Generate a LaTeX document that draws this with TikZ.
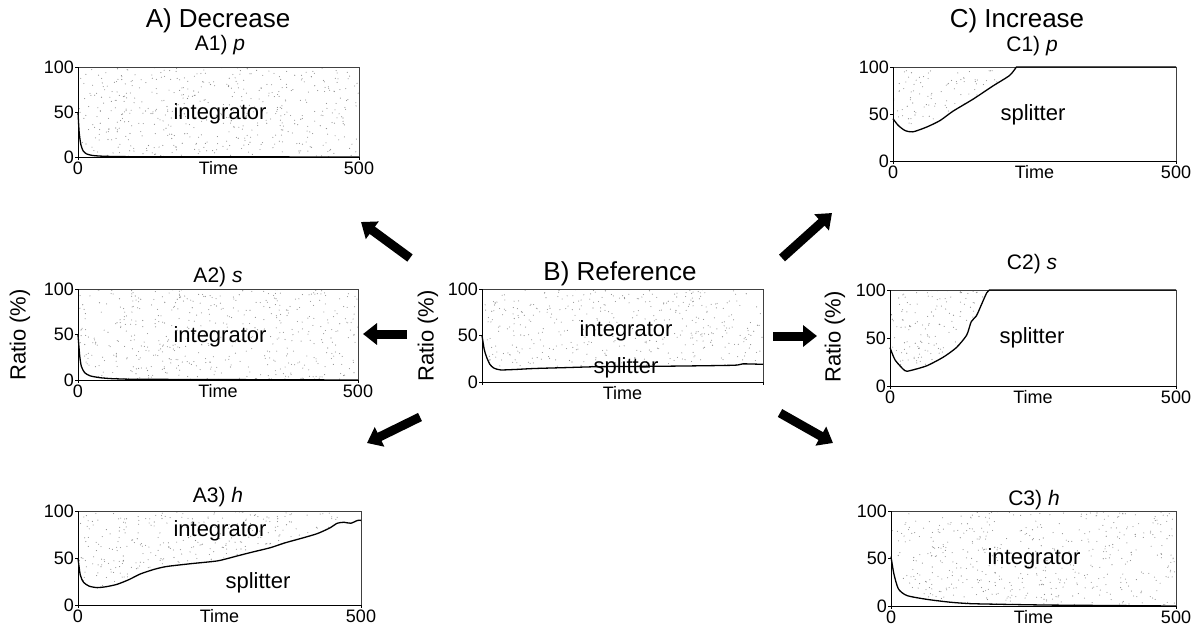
\documentclass[tikz,border=0pt]{standalone}
\usepackage{fontspec}
\setmainfont{Liberation Sans}
\usetikzlibrary{arrows.meta}
\definecolor{speck}{HTML}{8C8C8C}
\tikzset{
  bigtitle/.style  = {font=\fontsize{26}{26}\selectfont, anchor=base, inner sep=0pt, text depth=0pt},
  subtitle/.style  = {font=\fontsize{21}{21}\selectfont, anchor=base, inner sep=1pt},
  region/.style    = {font=\fontsize{22}{22}\selectfont, anchor=base, inner sep=1pt},
  tick/.style      = {font=\fontsize{18}{18}\selectfont, inner sep=1pt},
  ylab/.style      = {font=\fontsize{22}{22}\selectfont, rotate=90, inner sep=1pt},
  ratioline/.style = {line width=1.3pt, line join=round},
  plotbox/.style   = {line width=0.7pt, draw=black!75},
  axis/.style      = {line width=1pt},
  speckle/.style   = {fill=speck},
  fat/.style       = {line width=9pt, -{Triangle[length=14pt,width=21pt]}},
}
% one panel: name, left, bottom, x unit, y unit, curve, end value
\newcommand{\ratiopanel}[7]{%
  \begin{scope}[shift={(#2,#3)}, x={(#4pt,0pt)}, y={(0pt,#5pt)}]
    \begin{scope}
      \clip (0,100) -- plot[smooth,tension=0.4] coordinates {#6} -- (500,#7) -- (500,100) -- cycle;
      \foreach \k in {1,...,520}
        \fill[speckle] ({rnd*500},{rnd*100}) circle (0.55pt);
    \end{scope}
    \draw[plotbox] (0,0) rectangle (500,100);
    \draw[ratioline] plot[smooth,tension=0.4] coordinates {#6} -- (500,#7);
    \draw[axis] (0,100) -- (0,0) -- (500,0);
    \draw[axis] (0,0) -- ++(0pt,-3pt) (500,0) -- ++(0pt,-3pt);
    \foreach \v in {0,50,100}{
      \draw[axis] (0,\v) -- ++(-3pt,0pt);
      \node[tick,anchor=east] (#1-y\v) at ([xshift=-3pt]0,\v) {\v};}
    \node[tick,anchor=north] (#1-time) at ([yshift=-3.5pt]250,0) {Time};
  \end{scope}}

\begin{document}
\begin{tikzpicture}[x=1pt,y=-1pt]
  \useasboundingbox (0,0) rectangle (1199,630);
  \pgfmathsetseed{7}
  % A) decrease
  \node[bigtitle] (atitle) at (218,27) {A) Decrease};
  \node[subtitle] (a1title) at (220,50) {A1) \textit{p}};
  \ratiopanel{a1}{78}{157}{0.562}{0.90}
    {(0,50) (2,28) (5,14) (9,7) (15,3.5) (25,1.8) (40,1) (60,0.6) (80,0.4)}{0}
  \node[region] (a1int) at (220,119) {integrator};
  \node[subtitle] (a2title) at (218,282) {A2) \textit{s}};
  \ratiopanel{a2}{78}{380}{0.560}{0.91}
    {(0,50) (3,27) (6,15) (12,8) (22,4.5) (40,2.5) (60,1.5) (95,0.8)}{0}
  \node[region] (a2int) at (220,342) {integrator};
  \node[ylab] (a2ratio) at (20,335) {Ratio (\%)};
  \node[subtitle] (a3title) at (218,502) {A3) \textit{h}};
  \ratiopanel{a3}{78}{605}{0.566}{0.94}
    {(0,50) (4,32) (10,24) (20,20) (34,18.5) (50,19.5) (69,22) (90,27) (110,33)
     (135,38) (157,41) (200,44) (247,47) (280,52) (306,56) (340,61) (365,66)
     (395,71) (423,76) (445,82) (458,87) (470,88) (482,87) (494,90) (500,90)}{90}
  \node[region] (a3int) at (220,536) {integrator};
  \node[region] (a3spl) at (258,588) {splitter};
  % B) reference
  \node[bigtitle] (btitle) at (620,280) {B) Reference};
  \ratiopanel{b}{482}{382}{0.562}{0.93}
    {(0,50) (4,35) (8,27) (14,19) (21,15) (33,13) (60,13.5) (92,14.5) (150,15.5)
     (210,16.5) (328,17) (447,18) (464,19.5) (500,19)}{19}
  \node[region] (bint) at (626,336) {integrator};
  \node[region] (bspl) at (626,373) {splitter};
  \node[ylab] (bratio) at (428,336) {Ratio (\%)};
  % C) increase
  \node[bigtitle] (ctitle) at (1017,27) {C) Increase};
  \node[subtitle] (c1title) at (1032,51) {C1) \textit{p}};
  \ratiopanel{c1}{893}{161}{0.566}{0.94}
    {(0,45) (9,38) (21,32.5) (35,31) (59,36) (83,43) (106,53) (142,66) (177,80)
     (206,91) (218,100)}{100}
  \node[region] (c1spl) at (1033,120) {splitter};
  \node[subtitle] (c2title) at (1032,269) {C2) \textit{s}};
  \ratiopanel{c2}{890}{386}{0.572}{0.96}
    {(0,40) (9,27) (26,16) (35,16) (64,21) (93,30) (116,40) (134,53) (142,67)
     (151,73) (160,85) (169,97) (174,100)}{100}
  \node[region] (c2spl) at (1032,343) {splitter};
  \node[ylab] (c2ratio) at (835,337) {Ratio (\%)};
  \node[subtitle] (c3title) at (1034,505) {C3) \textit{h}};
  \ratiopanel{c3}{891}{606}{0.570}{0.95}
    {(0,52) (5,34) (13,18) (28,11) (63,7) (104,4) (139,2.5) (192,1.8) (273,1)}{0}
  \node[region] (c3int) at (1034,564) {integrator};
  % time axis ends
  \foreach \nm/\l/\r/\b in {a1/78/359/157, a2/78/358/380, a3/78/361/605,
                            c1/893/1176/161, c2/890/1176/386, c3/891/1176/606}{
    \node[tick,anchor=north] (\nm-x0) at (\l,\b+3.5) {0};
    \node[tick,anchor=north] (\nm-x500) at (\r,\b+3.5) {500};}
  % arrows out of the reference
  \coordinate (ultail) at (410,258);  \coordinate (ultip) at (361,222);
  \coordinate (mltail) at (407,334);  \coordinate (mltip) at (363,334);
  \coordinate (lltail) at (420,417);  \coordinate (lltip) at (367,443);
  \coordinate (urtail) at (782,258);  \coordinate (urtip) at (832,213);
  \coordinate (mrtail) at (773,336);  \coordinate (mrtip) at (817,336);
  \coordinate (lrtail) at (780,413);  \coordinate (lrtip) at (833,443);
  \draw[fat] (ultail) -- (ultip);
  \draw[fat] (mltail) -- (mltip);
  \draw[fat] (lltail) -- (lltip);
  \draw[fat] (urtail) -- (urtip);
  \draw[fat] (mrtail) -- (mrtip);
  \draw[fat] (lrtail) -- (lrtip);
\end{tikzpicture}
\end{document}
